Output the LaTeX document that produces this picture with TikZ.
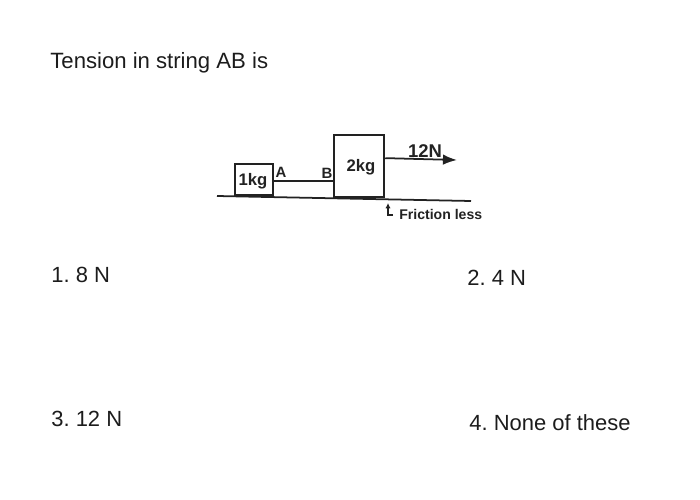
\documentclass[tikz,border=0pt]{standalone}
\usepackage{fontspec}
\setmainfont{Liberation Sans}
\usetikzlibrary{arrows.meta}
\frenchspacing

\definecolor{qcolor}{HTML}{1C1C1C}
\definecolor{lcolor}{HTML}{222222}

\tikzstyle{qtext}=[color=qcolor, anchor=west, inner sep=0pt, font=\fontsize{12.5}{14}\selectfont]
\tikzstyle{block}=[draw=lcolor, line width=1pt, inner sep=0pt, anchor=south west]
\tikzstyle{blocktext}=[color=lcolor, inner sep=0pt, font=\fontsize{9.5}{10}\selectfont\bfseries]
\tikzstyle{pointtext}=[color=lcolor, inner sep=0pt, font=\fontsize{8.5}{9}\selectfont\bfseries]
\tikzstyle{forcetext}=[color=lcolor, inner sep=0pt, font=\fontsize{10.5}{11}\selectfont\bfseries]
\tikzstyle{notetext}=[color=lcolor, inner sep=0pt, anchor=west, font=\fontsize{8}{9}\selectfont\bfseries]
\tikzstyle{floorline}=[color=lcolor, line width=1pt]
\tikzstyle{stringline}=[color=lcolor, line width=0.9pt]
\tikzstyle{forcearrow}=[color=lcolor, line width=1pt, -{Latex[length=8pt,width=6pt]}]
\tikzstyle{notearrow}=[color=lcolor, line width=0.7pt, -{Latex[length=3pt,width=3pt]}]

\begin{document}
\begin{tikzpicture}[x=0.02cm, y=-0.02cm]

\useasboundingbox (0,0) rectangle (700,500);

% question and answers
\node[qtext, font=\fontsize{12.6}{14}\selectfont] (question) at (50,63) {Tension in string AB is};
\node[qtext] (optone) at (51,275) {1. 8 N};
\node[qtext] (opttwo) at (467,278) {2. 4 N};
\node[qtext] (optthree) at (51,419) {3. 12 N};
\node[qtext] (optfour) at (469,423) {4. None of these};

% floor
\coordinate (floorleft) at (217,196);
\coordinate (floorright) at (471,201);
\draw[floorline] (floorleft) -- (floorright);

% blocks
\node[block, minimum width=0.76cm, minimum height=0.62cm] (small) at (234,196) {};
\node[blocktext] (smalltext) at (253,181) {1kg};
\node[block, minimum width=1.01cm, minimum height=1.24cm] (big) at (333,198) {};
\node[blocktext] (bigtext) at (361,167) {2kg};

% string
\draw[stringline] ([yshift=-0.03cm]small.east) -- ([yshift=-0.03cm]small.east -| big.west);
\node[pointtext] (labela) at (281,172) {A};
\node[pointtext] (labelb) at (327,173) {B};

% force
\coordinate (forceend) at (457,160);
\draw[forcearrow] ([yshift=0.16cm]big.east) -- (forceend);
\node[forcetext] (force) at (425,151) {12N};

% note
\node[notetext] (note) at (399,214) {Friction less};
\coordinate (notefoot) at (393,215);
\coordinate (notetop) at (388,203);
\draw[notearrow] (notefoot) -- (notefoot -| notetop) -- (notetop);

\end{tikzpicture}
\end{document}
